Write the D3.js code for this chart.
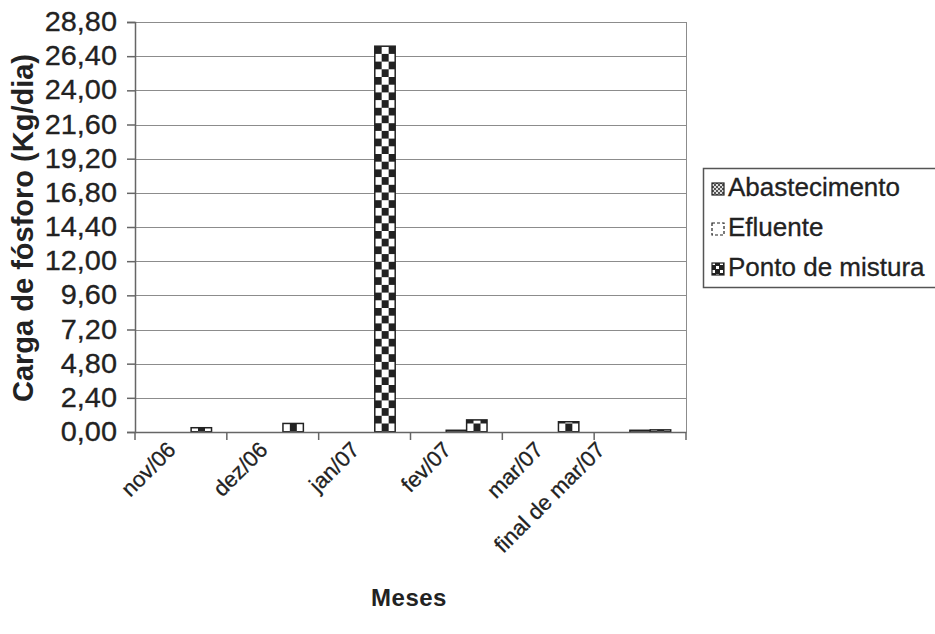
<!DOCTYPE html>
<html>
<head>
<meta charset="utf-8">
<script src="https://cdn.jsdelivr.net/npm/d3@7/dist/d3.min.js"></script>
<style>
  html, body { margin: 0; padding: 0; background: #fff; }
  svg { display: block; font-family: "Liberation Sans", Arial, sans-serif; }
  .txt { fill: #222; stroke: #222; stroke-width: 0.3px; }
</style>
</head>
<body>
<svg id="chart" width="935" height="634"></svg>
<script>
// Phosphorus load per month, three sampling points
const months = ["nov/06", "dez/06", "jan/07", "fev/07", "mar/07", "final de mar/07"];
const seriesNames = ["Abastecimento", "Efluente", "Ponto de mistura"];
const abastecimento = [0, 0, 0, 0, 0, 0];
const efluente = [0, 0, 0, 0.12, 0, 0.12];
const pontoDeMistura = [0.30, 0.60, 27.10, 0.85, 0.72, 0.15];
const yTicks = [0, 2.4, 4.8, 7.2, 9.6, 12, 14.4, 16.8, 19.2, 21.6, 24, 26.4, 28.8];

const seriesValues = [abastecimento, efluente, pontoDeMistura];

const svg = d3.select("#chart");
const plot = { left: 135, right: 686, top: 22, bottom: 432 };

const defs = svg.append("defs");

// Checkerboard fill
const chk = defs.append("pattern").attr("id", "pat-ponto")
  .attr("patternUnits", "userSpaceOnUse").attr("width", 14).attr("height", 15.4);
chk.append("rect").attr("width", 14).attr("height", 15.4).attr("fill", "#fff");
chk.append("rect").attr("x", 0).attr("y", 0).attr("width", 7).attr("height", 7.7).attr("fill", "#222");
chk.append("rect").attr("x", 7).attr("y", 7.7).attr("width", 7).attr("height", 7.7).attr("fill", "#222");

// Diagonal cross-hatch fill
const hatch = defs.append("pattern").attr("id", "pat-abast")
  .attr("patternUnits", "userSpaceOnUse").attr("width", 4).attr("height", 4);
hatch.append("rect").attr("width", 4).attr("height", 4).attr("fill", "#ddd");
hatch.append("path").attr("d", "M0,0L4,4M4,0L0,4").attr("stroke", "#444").attr("stroke-width", 0.9);

// Sparse dotted fill
const dots = defs.append("pattern").attr("id", "pat-eflu")
  .attr("patternUnits", "userSpaceOnUse").attr("width", 8).attr("height", 8);
dots.append("rect").attr("width", 8).attr("height", 8).attr("fill", "#fff");
dots.append("rect").attr("width", 1).attr("height", 1).attr("fill", "#555");

// Small checker for the legend swatch
const chkSmall = defs.append("pattern").attr("id", "pat-ponto-small")
  .attr("patternUnits", "userSpaceOnUse").attr("width", 8).attr("height", 8);
chkSmall.append("rect").attr("width", 8).attr("height", 8).attr("fill", "#222");
chkSmall.append("rect").attr("x", 1).attr("y", 1).attr("width", 3).attr("height", 3).attr("fill", "#fff");
chkSmall.append("rect").attr("x", 5).attr("y", 5).attr("width", 3).attr("height", 3).attr("fill", "#fff");

const fills = ["url(#pat-abast)", "url(#pat-eflu)", "url(#pat-ponto)"];
const legendFills = ["url(#pat-abast)", "#fff", "url(#pat-ponto-small)"];

const x0 = d3.scaleBand().domain(months).range([plot.left, plot.right]).paddingInner(0).paddingOuter(0);
const innerPad = x0.bandwidth() * (1.5 / 4.5) / 2;
const x1 = d3.scaleBand().domain(seriesNames)
  .range([innerPad, x0.bandwidth() - innerPad]).padding(0);
const y = d3.scaleLinear().domain([0, 28.8]).range([plot.bottom, plot.top]);

const fmt = v => d3.format(".2f")(v).replace(".", ",");

// Horizontal gridlines
svg.append("g").selectAll("line").data(yTicks).join("line")
  .attr("x1", plot.left).attr("x2", plot.right)
  .attr("y1", d => Math.round(y(d)) + 0.5).attr("y2", d => Math.round(y(d)) + 0.5)
  .attr("stroke", "#8c8c8c").attr("stroke-width", 1);

// Right border of the plot area
svg.append("line")
  .attr("x1", plot.right + 0.5).attr("x2", plot.right + 0.5)
  .attr("y1", plot.top).attr("y2", plot.bottom)
  .attr("stroke", "#8c8c8c");

// Bars
const groups = svg.append("g").selectAll("g").data(months).join("g")
  .attr("transform", d => `translate(${x0(d)},0)`);
groups.selectAll("rect")
  .data((m, i) => seriesNames.map((s, k) => ({ s, k, v: seriesValues[k][i] })).filter(d => d.v > 0))
  .join("rect")
  .attr("x", d => x1(d.s))
  .attr("y", d => y(d.v))
  .attr("width", x1.bandwidth())
  .attr("height", d => y(0) - y(d.v))
  .attr("fill", d => fills[d.k])
  .attr("stroke", "#222").attr("stroke-width", 1.5);

// Y axis
const yAxis = d3.axisLeft(y).tickValues(yTicks).tickFormat(fmt).tickSize(8).tickPadding(10);
const gy = svg.append("g").attr("transform", `translate(${plot.left},0)`).call(yAxis);
gy.select(".domain").attr("stroke", "#666").attr("stroke-width", 1.5);
gy.selectAll(".tick line").attr("stroke", "#666").attr("stroke-width", 1.5);
gy.selectAll(".tick text")
  .attr("class", "txt")
  .attr("x", 0)
  .attr("transform", "translate(-18,0) scale(1.07,1)")
  .attr("font-size", 27)
  .attr("font-family", "Liberation Sans, Arial, sans-serif");

// X axis
const xAxis = d3.axisBottom(x0).tickSize(0).tickFormat("");
const gx = svg.append("g").attr("transform", `translate(0,${plot.bottom})`).call(xAxis);
gx.select(".domain").attr("stroke", "#666").attr("stroke-width", 1.5);
gx.selectAll(".tick").remove();
// Category boundary ticks
const bounds = months.map(m => x0(m)).concat([plot.right]);
gx.append("g").selectAll("line").data(bounds).join("line")
  .attr("x1", d => d).attr("x2", d => d).attr("y1", 0).attr("y2", 8)
  .attr("stroke", "#666").attr("stroke-width", 1.5);

// Rotated month labels
svg.append("g").selectAll("text").data(months).join("text")
  .attr("class", "txt")
  .attr("transform", d => {
    const shift = d.length > 8 ? 38 : 8;
    return `translate(${x0(d) + x0.bandwidth() / 2 - shift},${plot.bottom + 15}) rotate(-45)`;
  })
  .attr("text-anchor", "end")
  .attr("dominant-baseline", "middle")
  .attr("font-size", 22)
  .text(d => d);

// Axis titles
svg.append("text")
  .attr("transform", `translate(25,${(plot.top + plot.bottom) / 2 + 1}) rotate(-90)`)
  .attr("text-anchor", "middle").attr("dominant-baseline", "middle")
  .attr("font-size", 29).attr("font-weight", "bold").attr("fill", "#222")
  .text("Carga de fósforo (Kg/dia)");

svg.append("text")
  .attr("x", 409).attr("y", 606)
  .attr("text-anchor", "middle")
  .attr("font-size", 24).attr("font-weight", "bold").attr("fill", "#222")
  .attr("letter-spacing", 0.5)
  .text("Meses");

// Legend
const lg = svg.append("g").attr("transform", "translate(703,168)");
lg.append("rect").attr("x", 0.5).attr("y", 0.5).attr("width", 240).attr("height", 119)
  .attr("fill", "#fff").attr("stroke", "#555").attr("stroke-width", 1.5);
const items = lg.selectAll("g.item").data(seriesNames).join("g")
  .attr("class", "item")
  .attr("transform", (d, i) => `translate(0,${21 + i * 40})`);
items.append("rect").attr("x", 9).attr("y", -6).attr("width", 12).attr("height", 12)
  .attr("fill", (d, i) => legendFills[i]).attr("stroke", "#222").attr("stroke-width", 1.2)
  .attr("stroke-dasharray", (d, i) => i === 1 ? "3,2" : null);
items.append("text").attr("x", 25).attr("y", 0)
  .attr("class", "txt")
  .attr("dominant-baseline", "middle")
  .attr("font-size", 26)
  .text(d => d);
</script>
</body>
</html>
